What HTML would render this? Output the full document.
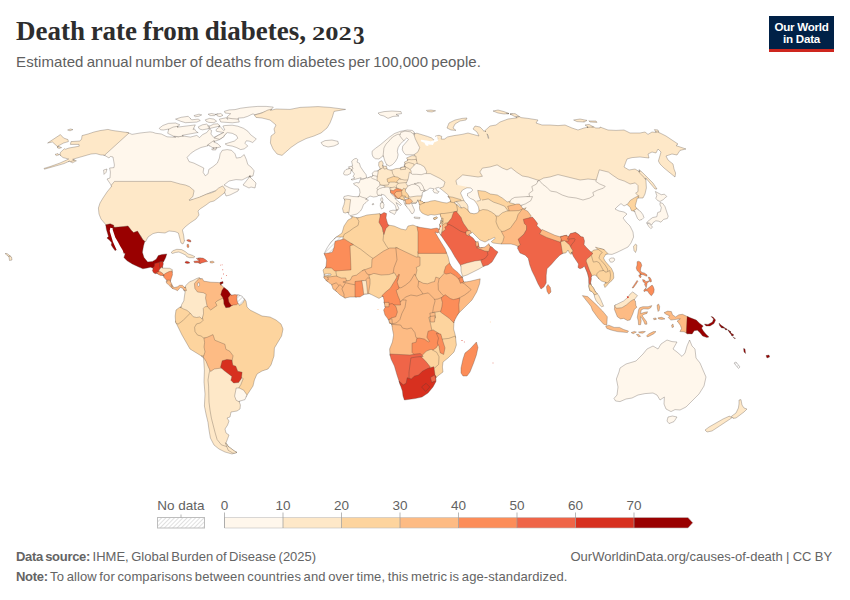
<!DOCTYPE html>
<html>
<head>
<meta charset="utf-8">
<title>Death rate from diabetes, 2023</title>
<style>
html,body{margin:0;padding:0;background:#fff;}
body{width:850px;height:600px;position:relative;overflow:hidden;font-family:"Liberation Sans",sans-serif;}
.t{position:absolute;white-space:nowrap;transform-origin:0 0;line-height:1;}
#title{left:16.1px;top:18.4px;font-family:"Liberation Serif",serif;font-weight:bold;font-size:27px;color:#2d2d2d;word-spacing:-1.2px;}
#sub{left:16.1px;top:53.5px;font-size:15px;color:#606060;word-spacing:-1.1px;letter-spacing:0.08px;}
#logo{position:absolute;left:769px;top:16px;width:65px;height:33px;background:#002147;border-bottom:3px solid #ce261e;color:#fff;font-weight:bold;font-size:11.6px;letter-spacing:-0.25px;line-height:12.5px;text-align:center;}
#logo div{position:absolute;left:0;width:65px;text-align:center;white-space:nowrap;}
.ty{font-family:"Liberation Serif",serif;font-weight:bold;color:#2d2d2d;}
.f{font-size:13px;color:#646464;word-spacing:-1.1px;}
.f b{font-weight:bold;letter-spacing:-0.3px;}
svg{position:absolute;left:0;top:0;}
svg text{font-family:"Liberation Sans",sans-serif;}
</style>
</head>
<body>
<svg id="map" width="850" height="600" viewBox="0 0 850 600">
<defs>
<pattern id="hatch" width="3" height="3" patternUnits="userSpaceOnUse" patternTransform="rotate(45)">
<rect width="3" height="3" fill="#fff"/>
<line x1="0.5" y1="0" x2="0.5" y2="3" stroke="#dcdcdc" stroke-width="0.9"/>
</pattern>
</defs>
<g id="land" stroke="#4a4038" stroke-opacity="0.55" stroke-width="0.55" stroke-linejoin="round" fill-rule="evenodd">
<path d="M57.2 146.3L58.1 147.1L57 147.4L59 148.4L61.6 147.6L58 146.1Z" fill="#fee8c8"/>
<path d="M61.1 155.3L60.1 154.3L60 155L60.5 155.5ZM58 153.6L55 154.4L56.4 155.6L59.2 154.8Z" fill="#fee8c8"/>
<path d="M68.4 161.6L69.5 161.1L72.4 162.8L76.4 160.8L73.1 159.5L68.2 161.4Z" fill="#fee8c8"/>
<path d="M58.3 146.3L57.9 146.1L63.6 143L68.4 141.6L68 139.6L63.6 138L60.4 134.6L47.6 143L52.4 142L57.4 146.5Z" fill="#fee8c8"/>
<path d="M70 130.8L73 129.6L70.4 129L67.6 130Z" fill="#fee8c8"/>
<path d="M103 154L103 155L104 155L109 158L110.4 156.4L113 157L114.4 165L114 167.6L109.6 168L110.4 172L110 178L107 179L111.8 186.1L111.1 186.9L112 188.2L115.5 183L169.9 183L177.7 184.6L184.5 186.9L188.2 189.7L190.9 194.1L188.4 200.8L196.3 199L210.4 192.5L222.2 188.3L223.1 192.5L223.9 193.3L224.8 192.5L226 196L230 195L238 191L239 189L234 189L230 188L224 185L229 181L236 179.6L242 180L250.3 175.8L248.7 177.9L250.5 177.5L249.7 176.7L253 176L254.1 170.8L251.3 167.3L247.8 164.5L246.3 159.5L244.2 154.6L240.7 157.4L236.4 158.1L235 153.8L231.5 150.3L227.2 149.6L222.3 150.3L220.1 153.8L219.4 158.1L217.3 163.1L213.1 166.6L208.8 169.4L208.1 173.7L205.3 175.8L203.1 172.3L203.8 168L193.9 163.1L189 161.6L187.1 157.4L191.1 153.1L195.3 150.3L201 147.5L206.7 146.1L208.5 145.1L209.5 145.8L211.4 144.8L215 142.4L213.5 141.7L219.4 139.7L223.7 136.8L224.3 135.3L225.9 133.9L226.7 132L223.7 132.5L213.8 137.5L210.9 134L211.6 130.5L209.5 129.1L206.7 132.6L202.4 134.7L199.6 137.6L196.8 135.4L190.4 137.1L182.3 135.9L182.3 135.6L178.3 136.9L173.6 136.3L175.7 137.3L167 136.8L161.3 134L155.7 133.3L152.8 132.3L150 131.9L140 133L132 134.4L128 132.6L126.7 132.4ZM209.3 127.7L208.5 128.8L210.3 128.4Z" fill="#fff7ec"/>
<path d="M103.6 170L104 174.4L106 172.4L107 169Z" fill="#fff7ec"/>
<path d="M168.5 130L172.9 128.6L178.1 127.6L178.7 127L177 127.2L179.8 124.8L175.5 123L168.4 123.4L162.8 125.5L159.2 128.3L160.6 129.8L163.5 130L168.8 129Z" fill="#fff7ec"/>
<path d="M173.6 136.2L179.1 136.7L183.4 136L182.3 135.9L182.3 135.3L197.8 132.5L195.3 130.5L194.5 128.8L193 129.5L195.3 124.9L177 127.2L178.1 126.2L173.1 127.1L168.7 129.2L167.7 133.3ZM197.9 132.6L198 132.9L198.2 132.9Z" fill="#fff7ec"/>
<path d="M190 118.7L190.4 118.5L188.2 116.3L181.2 117.3L175.5 119.1L180.5 121.2L185.4 122.7L196.7 122.1L200.3 120.5L198.2 119.1L191.7 119.8L190.7 118.8Z" fill="#fff7ec"/>
<path d="M198.9 114.2L193.9 115.6L195.3 116.7L198.9 116.3L201.7 114.9Z" fill="#fff7ec"/>
<path d="M213.8 122.7L216.6 121.2L213.8 119.1L209.5 118.4L205.3 119.8L206 121.2L208.8 122.4Z" fill="#fff7ec"/>
<path d="M218.1 113.9L216.6 114.2L216.9 114.9ZM215.5 114.4L211.6 113.5L208.1 114.2L210.2 115.6L214.5 115.6L216.1 114.2Z" fill="#fff7ec"/>
<path d="M210.1 126.1L210 126L209 126.4L206.7 124.1L202.4 124.8L198.2 126.9L199.6 129.1L202.4 129.8L208.1 128.8Z" fill="#fff7ec"/>
<path d="M210.4 128.3L219.9 126.1L218 123.8L213.8 124.1L209 126.4L208.3 125.7L207.7 126Z" fill="#fff7ec"/>
<path d="M238.2 118.8L226.9 117.4L227.8 119.4L225.9 117.8L219.4 119.1L220.8 122L232.3 122.8L239.3 122Z" fill="#fff7ec"/>
<path d="M232 118.7L238.3 119.1L238 118.1L243.5 117.7L247.8 116.3L252 114.2L253.5 113.9L254.1 114.8L257.9 114L270.7 110.2L273.3 107.1L266.2 106.4L257.7 106.4L249.2 107.1L240.7 108.2L235 109.6L229.3 109.9L224.4 111.3L225.1 113L230.7 113.7L226.8 117.1L227 117.7Z" fill="#fff7ec"/>
<path d="M215.7 114.6L216.1 114.2L215.6 114.3ZM216.6 114.2L217.3 115.9L220.1 116.7L223 115.3L220.8 113.5Z" fill="#fff7ec"/>
<path d="M214.2 138L219.5 139.3L223.7 136.8L224.3 135.3L227.2 132.6L232.2 133.3L236.4 135.4L237.8 138.2L234.3 141.1L225.1 143.9L227.2 145.3L232.2 146.1L236.4 147.5L240.7 149.6L244.2 148.9L247.8 146.1L244.9 143.2L246.3 140.8L249.2 141.1L252.7 142.5L256.3 139L250.6 134.7L247.8 131.2L243.5 128.3L237.8 126.2L232.2 125.2L225.1 125.5L222.9 126.1L224.8 129.8L223.6 130.5L220.1 126.4L215.9 129.8L216.6 131.4L223.8 132.5L217.9 135.5ZM219.7 125.8L218.5 126.4L219.9 126.1Z" fill="#fff7ec"/>
<path d="M207.4 145.7L208.5 145.1L214.4 148.7L215.9 148.8L215.9 148.1L220.8 146.8L218 143.9L213.5 141.7L214.8 141.2L213.7 140.6L207 145.4Z" fill="#fff7ec"/>
<path d="M216.9 147.5L212.9 147.8L214.4 148.7L211.6 148.9L212.3 150L215.9 149.9L215.9 148.1L216.9 147.8Z" fill="#fff7ec"/>
<path d="M250.3 175.9L243 185L249 188L251 187L255 188L256 183L249.7 176.7L250.8 176.4ZM250 175.6L249.2 176.4L250.3 175.9Z" fill="#fff7ec"/>
<path d="M323 145.4L328 147L334 146L338.4 144L338 141.4L332 140L325 140.6L321 142.6Z" fill="#fff7ec"/>
<path d="M7.9 255.9L9 256.9L9.5 260.5L12 260L11.5 257L9.6 255.6L7.8 255.2Z" fill="#fee8c8"/>
<path d="M10.4 256.2L7 253.5L5 253.5L8.9 256.8Z" fill="#fee8c8"/>
<path d="M70.6 161.7L74.5 160.1L72.6 159.3L91 154L96 153.6L101 155L104 155L105 155.6L105 154.8L129 133L128 132.6L112 130.4L108 129.4L100 130.6L94 132L88 134L82 135.6L81.6 139L80 141L71 141.6L70.4 144.4L79 144.4L79.2 146.2L69 148L65.5 149.2L64.4 148.7L60.4 152.4L60 155L63 157.6L68.7 159L60 163L50 166.6L44 168.4L44.4 169.2L64 163.6L69.5 161.1ZM59 154.9L59.2 154.8L59 154.6Z" fill="#fee8c8"/>
<path d="M267.7 110.1L261.6 113.1L254.4 115.1L256 117.4L262 118L270 120L276 125L274 129L275 133L271 136L270.4 143L273 149L277 154L282 155.4L291 147.4L298 142.6L306 138.6L314 136L321 133L327 128L330 123L332.4 117L334 111.4L345.6 109.4L330 107.4L318 106.6L300 107.4L290 109.4L276 109L270.5 110.4L271.6 109.1Z" fill="#fee8c8"/>
<path d="M111.2 185.3L111.8 186.1L107 192L103 198L100 203L98.4 208L99 214L101 219L105.7 224.6L105.9 225.5L117.9 229L124.1 229L128.5 228.1L130.2 230.7L134.7 234.7L138.7 233.5L141.1 236.5L143.2 241L144.6 242.1L144.9 241.1L145.6 241.6L148 237L153 233.6L158 232.4L165 233L169 231L175 231.6L178.4 233L181 243L183 244L184.7 240.4L184.3 240.5L183.6 235L182.4 230L185 227L190 223L196 219L199 215L198 211L200 209L206 205L210 202L214 201L218 198L224.5 192.8L225.5 189.8L222.7 185.9L218.4 188.2L215.4 191.1L211.7 192.7L206.7 194.1L199.6 197.1L189.5 200.4L189.2 199.8L192.9 196.5L194.1 190.6L189.5 186.7L185.3 185L180.2 184L171.1 181.4L114.5 181.4Z" fill="#fee8c8"/>
<path d="M201.4 311.8L200 316L200.9 319.7L199.5 321.1L195.4 322.1L192.6 326.8L193 332.4L196.4 336.9L200.5 337.9L202.7 340.1L208.3 339L211.8 337.4L213.2 341.8L223.1 345.7L224.1 350.7L228.3 352.8L230.9 356.2L230 361L231.1 366.8L234.2 367.8L236.3 372.8L240.1 373.8L241 378.9L239.1 383.6L235.2 390L238.8 390L242.3 391.8L246 397.1L246.4 396L253 386L254.4 380L257 374L262 371L268 369L271 365L274 356L274.4 348L281.6 336L283 329L281 324L276 320L270 317L262 316L250 310L247 307L246 301L243.5 298L240.4 302.7L231.7 303.4L229.1 304.8L226.9 303.4L225.1 296.8L220.7 298L217.4 299.2L211.8 306.3L208.1 303.9L202.1 306.3Z" fill="#fdd49e"/>
<path d="M205.1 358L207 352.1L206 347L206.6 342.4L205.8 338L203.4 338L201.5 336.1L197.6 335.1L195 331.6L194.6 327.2L196.6 323.9L200.5 322.9L203.1 320.3L201.7 314.5L199 315.9L194.5 314.1L189.9 310.7L181.3 319.2L177.9 321.9L175.5 320.9L175.6 322L182 335L190 349L203 357L203.6 358Z" fill="#fdd49e"/>
<path d="M178.1 324.1L182.7 320.8L191.6 311.8L185.4 308.1L181.3 306.5L181.1 307.4L180 307L176 310L175.2 316L175.6 322L176.2 323.4Z" fill="#fdd49e"/>
<path d="M222.6 443.1L218.9 438.5L213.4 417.8L212 409.9L211 401.9L210.6 385.9L210 380L211 374.2L212.1 369.9L209.9 365.6L207.9 360.5L204.9 356L201.3 356L203 357L203.6 358L204.4 370L204 382L205 394L204.4 406L206 414L208 422.4L209 430L210.4 438L214 445L219 449L225 452L232 454L237 452.4L234.4 451L228.1 446.3L226.9 444.5Z" fill="#fee8c8"/>
<path d="M209 373.8L208 380L208.6 386.1L209 402.1L210 410.1L211.4 418.2L215 432.3L217.1 439.5L221.4 444.9L226.8 446.6L228.4 446.6L228.1 446.3L226 443L229 435L226 433L225 429L227.6 425L229 421L227 418L230 417L231 412L237 411L240 409L240.4 405L239.1 401.3L240.1 401L236.8 395.3L237.9 389.4L240.9 384.4L243.2 378.6L240.1 376.6L237.4 380.7L234.4 381L233.1 379.7L234.1 375.6L225.6 369.2L221.9 365.9L213.7 367L210.1 369.4Z" fill="#fee8c8"/>
<path d="M412.1 135.5L413.4 139.6L417.5 147.7L416.3 150.7L414 153.8L414.7 156.9L414 160.5L415.7 164.7L419.6 166.3L422.8 168.2L424.6 171.9L423.7 175.6L429.7 175.6L439.3 180.4L442.6 182.8L441.8 185.5L439.8 188.1L448.4 195.1L448 197L449.3 197.2L449.6 198.3L453.8 199L459.8 201L466.4 201L461.9 196.5L461.1 193.2L463.5 190L468.2 190L462.5 187.1L458.9 184.4L458.1 181.4L463.3 177.1L478 179L485.6 177.7L482.2 172L483.6 169.9L490.2 169L496.9 167.1L501.6 169.9L507 172.1L510.9 170.2L515.4 173.8L521.6 178L527.8 179L539.1 182.7L544.3 180L550.2 179L558 176.6L579.9 182L588 181L597.7 182.1L600.7 172.2L607.6 173.9L611.4 176.8L617.6 180.9L623.6 182.9L629.9 186L634.7 185.1L636 186.4L636 190.5L632.4 192.8L637.6 198L643 198L645 194L646.4 188L645.9 179.8L640.7 171.3L639.4 170.4L640 172L635 169L629 170L624 167L627 159L632 157.6L640 157L649 158L648 154L652 152L656 153L658 149L661 152L658.4 161L660 164L664 168L675 177L675.6 173L674 169L673 164L668 160L666 156L672 154L677 155L680 150.4L686 149L676 145.6L678 144L666 136L660 133L659.2 132.9L658.7 131.8L655.5 131.4L656.2 132.5L652 132L648 134.4L645 132L640 133L630 133L624 130L616 130.4L608 130L600 127L600 128L595.8 128L593.9 127L592.2 127L589.1 126L587 126.4L588.1 127.2L584 128L578 130L572 128L565 125L558 125.6L550 125L542 125L536 123L538 120L528 118.4L521 117.6L519.7 116.7L515.7 117L517.2 117.8L508 119L500 122L496 125L490 126L484.9 130.7L485.8 132L484.8 130.7L484.1 131.4L483 130L480 127L475 126L473 129L477 132L479 136L468 133L462 134.4L454 135.6L447.6 136.9L444.4 139.1L441.2 139.1L441.8 136.4L439.1 135.3L435.6 136L435.5 136.4L437.9 138.3L437.3 139.9L435.6 140.5L434.2 139.1L433.8 140.1L431.7 138L427.5 136.4L416.9 133.2L413.7 133.9L414.1 132.8L409.8 133.8ZM488.1 135.4L488.8 138.3L488.3 138.4L487 133.8ZM433.1 141.5L432.1 143.8L426.6 143.2L427 144.6L426.5 144.5L425 142L422 140.7L430.7 142.2L433.8 141.2Z" fill="#fee8c8"/>
<path d="M455 120L449 123L447 128L451 130L456 130.4L453 128L455 124L460 121L466 120L467 118L462 118.4Z" fill="#fee8c8"/>
<path d="M513.3 114.3L512.2 113.8L510 114L510.9 114.5ZM504 111.6L498 110L493 111L498 113L504 114L509 113.6Z" fill="#fee8c8"/>
<path d="M507.4 113.7L509 113.6L507.9 113.2L506.5 113.3ZM519.5 116.6L515 113.6L510 114L514.9 116.6Z" fill="#fee8c8"/>
<path d="M580 119L573.6 120L577 121.6L584 122L584.2 121.9L583.8 121.6L584.6 121.7L587 120.4Z" fill="#fee8c8"/>
<path d="M587 120.4L587 120.4L587 120.4ZM597 122.4L596 121L590 121L588.8 120.8L590 122Z" fill="#fee8c8"/>
<path d="M593.6 126.9L589 124.4L585 125L588.1 127.2L587 127.4Z" fill="#fee8c8"/>
<path d="M658.8 132.1L658 130L654.4 129.6L655.7 131.7Z" fill="#fee8c8"/>
<path d="M639.2 172.6L644.3 177.7L645.8 179.6L645.7 177.9L655 189L657 189L653 183L643 173L639 169.6L640 172L638.6 171.1Z" fill="#fee8c8"/>
<path d="M111.8 229.8L114.5 238L117.2 242.3L119.3 246.5L122 250.7L123.1 253L125.2 253.6L123.9 257.6L127.1 260.8L132.3 264L137.7 266.6L142.9 268.8L147.2 268L150.4 267.2L153.4 268.2L153 269.1L153.9 269.4L156.9 265.8L160.2 263.4L163.1 263.4L162.9 262.6L164.1 260.8L165.7 257.6L166.8 253.9L162 254.5L158.3 255.5L156.2 259.2L152.5 261.4L147.7 261.9L144 257.6L142.4 252.3L143.5 246L144.8 241.3L142.7 239.5L137.5 231L133.6 232.6L131.5 230.5L128 225.9L123.8 226.5L115.4 227.2L111.8 226.9Z" fill="#990000"/>
<path d="M117.4 249.9L113.7 241.4L110.6 231.1L111 228.7L113.8 229.2L113.8 225.2L110.2 223.8L105.7 224.7L106.4 229.6L108.5 236.5L106.9 238.1L109.6 240.2L111.7 242.8L111.2 244.9L112.8 247.6L115.2 250.8L116.4 249.6L117.2 250.1Z" fill="#990000"/>
<path d="M204.6 342.4L204 347L205 351.9L203.3 357.1L206.1 361.5L208.1 366.4L210.6 371.5L214.3 369L222.4 367.9L223.8 362.4L227.1 361.4L231.8 362.1L233.1 355.8L229.7 351.2L225.9 349.3L224.9 344.3L214.8 340.2L213 334.6L207.6 337.1L203.9 338.3Z" fill="#fdbb84"/>
<path d="M220.5 367.3L224.4 370.8L231.9 376.4L230.9 380.3L233.6 383L238.6 382.5L241.4 378.4L242.1 372.2L237.7 371.2L235.8 366.2L232.9 365.2L231.8 360.1L226.9 359.4L222.2 360.8Z" fill="#d7301f"/>
<path d="M183.5 288.7L183.8 290.3L184.7 290L185 292.4L183.8 300.9L181.7 304.5L181.1 307.4L180.2 307.1L183.4 308.9L186.9 310.3L190.2 313L193.2 316.7L196.6 317.5L199.8 316.9L202.1 319.1L203.5 313.8L203.3 308.4L204.8 306.8L209.2 306.3L207.5 298.1L208.3 293.3L204 290.7L198.6 290.1L196.8 287.8L196.5 284.2L198.4 281.8L201.4 279.2L201.1 278.8L200.1 279L199.4 277.6L196.6 278.5L193.1 280.4L189.5 281.8L186 285.3L185 287.9L184.2 287.1Z" fill="#fee8c8"/>
<path d="M197 280.4L194.4 283.6L194.9 288.5L197.5 292L203.3 292.7L206.1 294.3L205.5 298.1L207 305.8L207.8 307.2L210.7 310L217 305.5L215.5 302.5L217 301L225.1 297L222.9 294.3L223.7 291.4L225.5 288.7L224.6 288.2L220.7 284.2L221.8 283.7L220.2 282.4L219.1 282.9L218.6 282.5L210.8 282.2L203.7 281.1L202.3 278.5L200.1 279L199.7 278Z" fill="#fdbb84"/>
<path d="M221.9 290.6L220.7 294.8L222.6 297.2L223.7 300.4L223.9 304L225.8 307.7L229.5 307.3L233.1 304.7L230.8 301.2L230.2 298.3L232.5 295.3L232.4 295L231.3 295.3L227.8 290.3L223.9 287.4Z" fill="#990000"/>
<path d="M228.1 297.8L228.9 302L231.3 305.6L233.6 305L236.7 304.7L239.5 302L238.7 298.1L239.4 295.2L234.8 294.6L231.3 295.3L230.7 294.4Z" fill="#fc8d59"/>
<path d="M236.7 298.1L237.4 302L239.5 305.5L242.7 303L244.7 299.7L241.9 296L238.4 295L237.4 294.9Z" fill="url(#hatch)"/>
<path d="M228.2 450.3L232.7 453L234.6 453.2L237 452.4L234.4 451L228.1 446.3L226.5 443.7L225.3 442.8Z" fill="#fee8c8"/>
<path d="M234.6 396.1L236.2 400.3L239.3 401.8L239.1 401.3L245 399.6L246.4 396L247 395.1L243.7 390.2L239.2 388L236.2 388Z" fill="#fff7ec"/>
<path d="M384.8 156.1L385.6 152.8L385.9 148.7L387.5 145.4L390.3 142.7L392.4 139.9L395 137.9L402 134.1L405.2 133.1L409.8 133.8L414.2 135.5L414.9 133.7L413.7 133.9L414.3 132.1L412.2 130.4L407.3 130L400.2 131.4L394.5 133.5L389.6 137L380.3 144.8L375.4 148.4L372.1 151.2L372.1 154.1L373 156.9L375.4 158.7L378.9 159L383.3 155.7L383.7 156.8Z" fill="#fff7ec"/>
<path d="M383.9 148.1L383.1 155.9L383.3 155.7L384.9 161.1L386.7 164.7L389.6 166.1L392.4 164.7L395.2 161.8L397.3 158.3L398.1 154.8L397.3 151.2L398.1 147.7L400.2 144.1L403.8 140.7L404 138.2L401.4 134.7L397.9 134.2L394 136.2L391 138.5L388.8 141.3L385.9 144.2Z" fill="#fff7ec"/>
<path d="M399.8 135.8L402.3 139.1L403.8 140.7L406.8 137.9L408.5 139.5L402.7 146.2L402.3 149.8L403.7 152.6L405.8 154.8L413.3 154.8L414.8 154.2L418 151.8L419.7 147.6L415.3 138.8L413.8 134.3L410.5 131.8L405 131.1L400.8 132.4Z" fill="#fff7ec"/>
<path d="M407.4 161.4L411.5 161.7L416.6 161L415.9 156L412.1 155.6L406.6 157.9L408 160.4L407.1 160.9Z" fill="#fee8c8"/>
<path d="M404.5 165.6L408.7 164.6L412.9 165.7L417.7 164.7L416.2 159.4L411.5 159.7L407.8 159.4L407.5 159.5L408 160.4L404.4 162.1L405.2 164.6L404.2 164.9Z" fill="#fee8c8"/>
<path d="M404.3 168.2L407.6 170.2L411.9 170.7L414.7 167.8L413.8 163.9L408.7 162.5L404.9 163.7L405.2 164.6L404.1 164.9L404.9 166.8L403.9 167Z" fill="#fee8c8"/>
<path d="M409.1 170.6L409.1 174.4L411.9 176.3L416.4 176.3L421.5 176.7L425.8 175.4L426.7 171.6L424.3 166.8L420.4 164.5L416.1 163.3Z" fill="#fff7ec"/>
<path d="M390.7 174.2L393.2 178.3L397.1 179.1L404.2 182L409.5 182L410.4 178.3L411.1 174L411.1 170.6L408.5 168.4L404.8 166.7L400.9 167.5L401.1 168.2L395.9 168.6L391 170.3L389.9 170.1Z" fill="#fee8c8"/>
<path d="M375.1 175.9L375.1 180.5L377.4 184.4L379.9 186.9L383.9 187.2L389.5 186.9L391.4 183L389.7 180.2L391.3 179.8L395.2 177.8L392.6 173.5L391.9 170L391 170.3L387.2 169.3L386.9 168.1L383.9 166.3L381.3 168L380.1 168.3L380.6 169.2L378.9 169.6L377.9 171.1L376.6 171.1L375.9 172Z" fill="#fee8c8"/>
<path d="M379.6 169.6L380.1 169.3L379.6 169.5ZM383.4 167.4L383.6 166.1L382.6 166.2L383.2 163.2L381.8 160.7L378.9 162.1L378.6 165.4L380.5 169.1Z" fill="#fee8c8"/>
<path d="M382.7 165.7L382.8 165.2L382.5 165.3ZM384 169.1L387 168.5L386.3 165.8L386.2 166L385 166.5L384.7 166L382.9 166.2ZM387 164.7L386.8 164.7L387.1 164.9Z" fill="#fee8c8"/>
<path d="M387.7 182L390.6 184.1L394.7 184.1L398.7 182.5L400.9 179.3L397.7 177.2L393.7 176.4L387 178.9Z" fill="#fdd49e"/>
<path d="M398 184.8L402.4 184.8L407.9 184L410.1 180L404.5 180L399.1 178.9L396.9 181.5Z" fill="#fee8c8"/>
<path d="M386.4 189L391 189.5L394.8 189L398.3 187.2L398.3 183L394.6 182.1L389.6 182.1L388.2 185L380.8 185.4Z" fill="#fee8c8"/>
<path d="M397.2 189.6L401.7 190.5L406.4 188.9L409.6 185.3L407.8 182.3L398.2 183.3L396.2 185.7Z" fill="#fee8c8"/>
<path d="M376 190.4L379.7 190.9L384 189.9L385.1 185.9L380.3 184.9L374.8 186.7Z" fill="#fff7ec"/>
<path d="M372.5 177.7L376.9 177.7L377.8 174.1L378.3 170.4L377.9 171.1L374.7 171.1L372.1 173.2L373 176L372.1 176.3Z" fill="#fff7ec"/>
<path d="M368.9 179.9L372.4 181.3L377.1 181.3L377.1 176.3L372.8 175.4L373 176L368.1 177.8Z" fill="#fff7ec"/>
<path d="M357.8 197L361.6 198.9L365.1 200.1L366.3 199.5L365.6 199.3L370 196L373.5 197L377 196.5L379 195L380.2 195.4L379 192.8L379 190.5L376.8 188.8L377.8 187.2L380.1 185.4L379.4 181.9L375.4 179.6L372.5 178.6L370.4 176.9L366.9 178.2L366.8 177.5L363.7 179L360.4 179.4L359 183L356.5 182.5L353.5 183.5L354.5 185L357.5 186.5L359.5 189L360 192.5L358.9 196.8L357.9 196.7Z" fill="#fff7ec"/>
<path d="M382.2 203.8L382.9 202.4L382.4 201.2L383 200L382.2 197.5L380.8 198.5L380.8 200.5L382.5 202.6L381.4 202.8Z" fill="#fff7ec"/>
<path d="M352.1 167.6L351.7 170.4L354.5 174L353 176.5L355 178L351 179.5L352.5 180L361.1 177.7L360.6 178.9L364.3 178.5L366.7 177.5L366 174.5L364 172L360.5 166.8L359.4 163.2L357 162.1L357.9 159.7L356.2 158.3L354.1 159L351.7 161.1L352 163.2L352.7 165.9L351.7 166.1Z" fill="#fff7ec"/>
<path d="M349.5 171L353.1 168.5L351.6 166.2L348.5 166.8L349.4 168.6L348.4 168.8Z" fill="#fff7ec"/>
<path d="M352.1 170.8L350.7 168.7L349.1 168L349.4 168.6L346 169.5L344.5 171L343.5 173.5L344.5 175L347.5 175L350.5 173.5L351.2 169.9Z" fill="#fff7ec"/>
<path d="M348.4 201.4L347 212.1L347.1 212.4L348 212L349 214.5L350.2 215.7L357 214L360.5 211L362 208.5L363.5 204.5L366 202.5L368.5 200L365.6 199.3L366.6 198.5L362.4 197.3L359.2 195.8L358.9 196.8L353 196.5L348 195.5L344 196.5L343.5 198.5L345 200L344.8 201ZM352.5 216.6L350.7 216.2L351.7 217.2Z" fill="#fff7ec"/>
<path d="M372.4 204.8L373.8 204.5L373.5 203.5L372 204Z" fill="#fff7ec"/>
<path d="M377 193.2L378.2 195.6L379 195L381.7 195.9L381.1 194.2L384.5 195L386.5 197.5L389 200L394 204L395.5 206L396.4 210.3L396.8 210.7L399 208.5L396 202.5L400.5 205.5L401.5 204.5L399 202L394.8 198.5L396.4 198.5L393.7 196.3L391.4 194L390.7 191.9L392.1 190.9L391.3 187.6L387 187L382.8 187.5L379.5 188.6L377 190.5Z" fill="#fff7ec"/>
<path d="M396.2 209.5L396.4 210.5L393 210.2L389.5 211L389.8 212.2L392 213L394.5 214.5L395.5 213L396.2 211.3L397.9 209.6Z" fill="#fff7ec"/>
<path d="M381.8 201.7L382.5 202.6L380.5 203L380.2 206L381.5 209L383.5 208L384 204.5L382.5 201.6Z" fill="#fff7ec"/>
<path d="M390.6 191.5L394.8 191.5L398.7 188.9L394.6 187L389.7 188Z" fill="#fee8c8"/>
<path d="M407.8 180L406.1 183.4L407.9 186.3L412.3 185.5L419.6 184.9L421.2 187.1L422.2 189.7L422.7 192.3L423 191.8L427.1 190.2L429.9 188.1L434.2 188.8L432.8 190.2L434.2 192.7L437.7 193.3L439.1 191.6L437 190.9L435.6 188.1L438.8 187.4L439.8 188.2L443.5 186.7L445 182L440.4 178.7L430.2 173.6L424.8 173.6L421.3 174.7L416.5 174.3L412.5 174.3L409.4 172.2L408.4 177.9Z" fill="#fff7ec"/>
<path d="M401.6 113.6L401 111.6L392 111L384 111.6L378 113L380 115L384 116L388 118.4L393 116.4L399 116L396 114.4Z" fill="#fff7ec"/>
<path d="M431 110L426.4 110.4L427.6 111.6L432 112L435.6 110.8Z" fill="#fee8c8"/>
<path d="M344.7 239L345.8 235.7L350.6 232.8L354.6 229.8L359.9 226.6L361.1 220.8L359 217.7L358 218L352.5 216.6L351.6 217.1L352.3 217.8L348 220L344 226L342 233L335 238L334 239Z" fill="#fdd49e"/>
<path d="M329.2 255L333.7 253.8L336 248.3L336.9 242.8L345 240.8L345 237L336.5 237L335 238L331 242L327 248L324 254L324.6 254.4L324.9 255.4Z" fill="url(#hatch)"/>
<path d="M358.9 221.2L358.1 225.4L353.4 228.2L349.4 231.2L344.2 234.3L343 237.8L343 240.6L359.4 250.8L368.4 257.8L373 260.8L384.5 252.9L391.5 249.4L387.8 244.4L385 239.8L386 231.9L383.9 226.6L381.1 221.8L382 217L381.2 214.2L380.4 214.8L380 213.6L367 215L358 218L356.6 217.6Z" fill="#fdd49e"/>
<path d="M382.9 231.3L383.9 232.4L383 240.2L386.2 245.6L389.5 250L396.8 250L415.8 259L420 259L420 231.9L419.1 227.2L418 227L413 225L408 226L406 230L401 229L394 226L388 225L387.6 223.9L384.1 227.5Z" fill="#fdd49e"/>
<path d="M418 264.4L413.8 266.5L415 270L413.5 276.1L416.2 281.7L420.6 284.9L427 286L432.6 284.9L435.1 280.8L438 284.7L440.8 280.6L443.9 277.6L445.9 272.3L447.5 267.6L450.4 264.8L449.8 264L448.2 257L445.9 251.4L418 251.4Z" fill="#fdd49e"/>
<path d="M348 244.3L349 268.1L334 269.1L334 273.3L337.4 278.5L344.4 279.9L346.6 283.1L351.7 281.9L353.7 277.9L357.5 276.9L362.5 272.9L373.6 268.7L374 259.1L369.6 256.2L360.6 249.2L351.1 243.3Z" fill="#fdd49e"/>
<path d="M371.6 267.3L362.5 270.5L366 275.9L370 277.1L374.1 275.4L380.9 277L389.2 276.6L394.9 274.8L396 268.3L399 260.1L397.9 248L389.8 248L383.5 251.1L372 259.1Z" fill="#fdbb84"/>
<path d="M397 259.9L394 267.7L393 274.2L395.9 279.1L394.9 282L397.2 288.8L401.1 290.1L406.6 286.8L411.8 282.7L415.5 276.4L417 270L416.2 267.5L420 265.6L420 257L416.2 257L395.8 247.3Z" fill="#fdbb84"/>
<path d="M329 279L337.2 277.8L336 272.9L336 269.6L332.4 266L326.1 266L326 267L323 270L324 274L324 277.6L324.8 278.7Z" fill="#fdd49e"/>
<path d="M331.4 280.6L329.6 277L324 276.6L324 277.6L326.6 281L326.9 280.9L327.8 281.7Z" fill="#fdbb84"/>
<path d="M332.9 286.1L335.9 285.1L339.4 286.8L343.2 290.6L347.1 284.2L345.8 278L341.2 278L336.1 276L327.5 277.2L328.6 279.4L326 280.3L326.6 281L326.9 280.9L330 283.6L331.6 284.4L332 285.6Z" fill="#fdbb84"/>
<path d="M340.3 286.9L336.2 282.8L331.7 284.6L333 289L336 291L336.7 291.7Z" fill="#fdbb84"/>
<path d="M346 293.8L343.9 288.4L340 284.6L338.2 286.3L335.2 290.4L336 291L340 295L345 298L346 297.8Z" fill="#fdbb84"/>
<path d="M344 294.2L344 297.4L345 298L350 297L357 297L357 283.2L346.5 280.8L345.1 283.5L341.9 288.9Z" fill="#fdbb84"/>
<path d="M342.9 282L350.8 284L357 285.2L357 283.4L364.4 283L368.7 279.7L371.6 275.4L367.2 274.1L364.4 269.7L361.5 271.2L356.5 275.1L352.3 276.1L350.3 280.1Z" fill="#fdbb84"/>
<path d="M365.6 294L369.4 293.6L370.3 294.1L372 284.1L372 278L367.6 278L364.4 281.2Z" fill="#fdbb84"/>
<path d="M370 283.9L368.4 293.7L369.4 293.6L379 298.4L383 296L383.3 297L383.6 296.8L386.7 293.7L391.8 289.7L398.2 279L394.4 272.8L388.8 274.6L381.1 275L373.9 273.4L368.8 275.4L370 279.2Z" fill="#fdd49e"/>
<path d="M393.8 289.6L396.1 296.3L398 301.3L398.6 305.9L403.7 301.7L406.6 298.9L411.1 297L417.1 298L423.3 296L429.8 294.7L424.8 288.4L421.8 283.3L417.8 280.3L414.7 273.9L410.2 281.3L405.4 285.2L400.9 287.9L397.9 286.9Z" fill="#fdbb84"/>
<path d="M417.9 286.9L421.6 291.8L424.6 296.6L428.4 299.8L433.4 301L438.4 301L442.9 299.1L445.3 295.9L439.8 288.7L441 278.9L435.8 277.1L434.5 281.6L432.1 282.1L427.6 283.8L423.3 283.3L418.7 281Z" fill="#fdbb84"/>
<path d="M444.4 273.1L439 279.1L438.1 283.6L438.4 289.9L441.5 293.7L444.5 296.7L449.4 300.3L453.3 301.6L459 300.4L465.6 296.8L470.4 293.2L474.1 289.4L465.6 282.2L465.3 282.1L463.8 282.3L463.4 281.2L462.1 280.5L459.4 277.8L456.4 273L451.2 270.4L445.8 271.1Z" fill="#fdbb84"/>
<path d="M464.5 283.9L471.1 289.6L469.1 291.7L464.5 295.1L457.7 298.8L456.8 304.6L457.4 315.2L458.3 313.4L460.9 311.1L472 300L476.7 291.9L479.6 283.7L480.2 278.8L469.7 281.3L463.8 282.3L463.5 281.4L460.4 281.9Z" fill="#fdbb84"/>
<path d="M432.6 299.7L431.3 312.5L434.6 313.3L442.5 312.6L443.8 307.2L444.5 302.3L442.9 296.9L437.9 299Z" fill="#fdbb84"/>
<path d="M403.8 302L403 306.7L400.1 312.6L398.1 318.5L395.5 321.1L389.6 322.3L390 323.3L391 323L392 325.4L392.1 326.4L399.4 327L401.4 329.9L407 331L410.6 330.1L413.1 333.4L414.1 338.8L423.6 340.9L427.8 344.1L432.5 342.6L429.1 336.8L429.9 332.7L434.2 330.5L431 318L432.6 313.2L433.4 307.2L435.1 300.9L433.8 298.4L428.3 292.9L422.7 294L416.9 296L410.9 295L405.4 297.1L400.6 302Z" fill="#fdbb84"/>
<path d="M389.9 304.2L394.1 307.6L395.4 312L394.2 315.2L390.4 316.1L388.2 319.3L388.9 320.2L389.4 322.4L390 323.3L391 323L391.4 323.9L396.5 322.9L399.9 319.5L401.9 313.4L405 307.3L406.2 300L402.6 300L399 303L393.9 303Z" fill="#fdbb84"/>
<path d="M400 356L410 357L418.1 355.7L414 351.6L414 344.8L417.9 343.8L418.7 338.9L415.9 337.3L414.9 332.6L411.4 327.9L407 329L402.6 328.1L400.6 325L391.6 324.4L392 325.4L392.4 329L393.6 335L392.4 342L389.6 349L390 355L390.2 356Z" fill="#fdbb84"/>
<path d="M392.3 323.8L391.9 318.7L388.5 319.7L388.9 320.2L389.6 323.4L391 323L391.4 324Z" fill="#fdbb84"/>
<path d="M433.3 316.1L431.4 316.4L428.8 317.4L430.6 324.2L432.1 331.2L437.5 334.9L439.3 335.8L442.5 341.1L449.2 340.4L455.7 338L455 334L453.6 329L454 321.6L454.7 320.3L448.6 315.2L442.2 310.9L432.9 312.6Z" fill="#fdd49e"/>
<path d="M440.9 341.9L443 348.1L442.3 351.5L441.9 351.3L441 345.7L439 342L437.4 342L434.8 346.8L430.3 351.3L435.3 353.7L437 357.2L436.6 363.7L433.4 368.7L433 375.2L435.3 379.6L435.7 379.2L435.6 378L439 375L443 372L442.4 367L443 362L448 358L454 352L456.4 345L455.4 336L448.8 338.4L442.4 339.1Z" fill="#fdd49e"/>
<path d="M457.1 185.6L461.5 188.9L463.8 190L465.1 190L469.8 189.1L471.9 190.4L470.9 194.2L474.2 199.6L477.7 203.1L483.4 201.7L481 195.7L480.3 192.8L484.7 193.4L489.7 196L496.7 197L501.4 199.8L506.8 204.1L511.7 202.9L512.8 200.7L515.3 199.4L526 198.6L532.3 198.6L531.1 194.4L535.1 191.4L534.2 187.5L537.7 185.8L540.5 181L528.2 177L522.4 176L516.6 172.2L511.1 167.8L507 169.9L502.4 168.1L497.1 164.9L489.8 167L482.4 168.1L479.8 172L482.4 176.3L478 177L462.7 174.9L455.9 180.6Z" fill="#fff7ec"/>
<path d="M541.3 185.7L545.3 188.8L549.5 192.9L555.7 194L561.6 196.9L567.8 199L575.8 200L583 202L590.4 199.9L596.2 196.4L595.2 193.5L598.4 191.9L604.5 189.9L608.8 185.7L600.5 182.1L597.4 180L588 179L580.1 180L558 174.6L549.8 177L543.7 178L537.4 181.3Z" fill="#fff7ec"/>
<path d="M536.3 184.2L531.8 186.5L532.9 190.6L528.9 193.6L529.7 196.6L526.9 196.6L529.4 199.7L524.4 202.2L519.7 208.1L522.4 210.8L526.3 212.8L529.2 216.7L532.2 219.6L535.1 225.5L538.4 229.8L542.6 231.3L548.6 233.9L554.6 236.9L560 239.1L565 237.5L568.1 238.7L574 234.5L575.6 234.1L578.4 237.9L582.1 238.8L583 244.4L589.6 255.2L593.6 253.8L595.6 251L600.1 250.6L602.5 250.1L605.6 254.7L606.1 254L612 254.4L617 252.4L628 247L631 243L633.6 237L633 232L630 226L626 222L623 218L627 214L624 212L619 211L615 209L618 206L621 203.6L624 206L627.1 204.4L627.9 205.2L628.6 204.8L631.6 201.8L635.7 199.2L638.4 195.9L635.6 193.2L638 191.5L638 185.6L635.3 182.9L630.1 184L624.4 181.1L618.4 179.1L612.6 175.2L608.4 172.1L599.3 169.8L595.8 181.4L599.5 183.9L605.2 186.3L603.5 188.1L597.6 190.1L592.8 192.5L593.8 195.6L589.6 198.1L583 200L576.2 198L568.2 197L562.4 195.1L556.3 192L550.5 191.1L546.7 187.2L542.7 184.3L538.8 179.9Z" fill="#fff7ec"/>
<path d="M614.8 260L614 258L611 258L609 259.5L610.5 262.2L613 262Z" fill="#fff7ec"/>
<path d="M636.5 250L636.8 245L635.5 244L633.5 246.5L634 250.5L635.5 252.5Z" fill="#fee8c8"/>
<path d="M660 202.5L662.7 203.4L665 206.6L668.2 216.2L667.3 218.5L663.6 219.4L660.9 222.2L658.6 221.2L655.8 220.8L653.1 222.6L651.7 224.9L649.4 223.1L646.7 222.6L649.4 219.9L652.6 217.6L656.8 216.7L657.7 212.5L660.4 211.6L661.3 207.5L660 204.8Z" fill="#fff7ec"/>
<path d="M646.7 223.3L649.4 223.7L652.6 227.2L650.8 228.6L649 226.8Z" fill="#fff7ec"/>
<path d="M655.4 191.5L661.3 194.7L664.5 194.2L666.8 196.5L665 197.9L663.2 199.7L660 201.5L657.7 200.6L655.8 198.3L656.8 195.6Z" fill="#fff7ec"/>
<path d="M466.6 185L471.5 190L470.4 191.2L466.5 192.8L466.5 196.5L470 199.4L473.3 200.8L474.3 202.2L479.2 205.3L482 201.8L479.9 185Z" fill="#fff7ec" stroke="none"/>
<path d="M456 200.2L462.7 202.5L467.1 203.6L464.4 199L461.6 193.1L463.2 190.8L470.2 187.4L456 184.8Z" fill="#fee8c8" stroke="none"/>
<path d="M582.4 295.6L587.7 296.6L596.2 304.6L602.5 310.9L607.3 316.8L606.8 325.2L603.6 324.2L597.8 317.8L592.5 310.4L590.9 306.2Z" fill="#fdbb84"/>
<path d="M605.7 326.3L608.9 325.2L614.2 327.4L619.5 327.4L623.7 329.5L628.5 331.1L627.4 332.6L617.4 331.6L611 330L606.8 328.4Z" fill="#fdbb84"/>
<path d="M631.1 332.6L634.3 331.4L636.4 332.1L633.2 333.7Z" fill="#fdbb84"/>
<path d="M638.5 332.1L642.8 331.4L645.4 331.6L642.8 333.2L639.6 332.9Z" fill="#fdbb84"/>
<path d="M636.4 334.6L638.5 334.2L640.6 336.4L638.5 336.7Z" fill="#fdbb84"/>
<path d="M646.5 335.8L649.1 333.7L653.4 331.6L656 331.6L653.9 333.7L650.2 335.8L647.5 336.9Z" fill="#fdbb84"/>
<path d="M632.8 297.6L629.5 299.5L625.2 303.3L621.3 305.7L617.1 306.2L615.5 305L614.7 305.4L614.4 309.4L617.4 316.8L620.5 318.9L623.7 318.4L627.4 320.5L630.1 319.9L632.7 314.1L634.3 309.4L636.9 307.2L635.9 305.6L635.4 300.9L634.1 299.9L634.7 299.1Z" fill="#fdbb84"/>
<path d="M639.6 307.8L642.8 306.7L648.1 306.7L651.8 305.6L650.7 307.8L648.1 309.1L643.8 308.8L641.2 309.9L640.6 313.6L643.8 312.5L647.5 311.7L647 313.4L643.8 314.4L642.2 315.7L646.5 321.5L647 324.2L644.9 324.2L643.8 321.5L641.7 317.8L640.4 316.8L641.2 321L640.6 324.7L638.5 324.7L638.3 321L637.3 317.3L638.5 309.9Z" fill="#fdbb84"/>
<path d="M657.1 305.1L658.6 304.1L659.7 306.7L659.2 310.4L658.1 311.5L657.4 308.3Z" fill="#fdbb84"/>
<path d="M653.4 318.4L656 318L656.3 319.4L653.9 319.7Z" fill="#fdbb84"/>
<path d="M658.1 317.8L661.8 317.3L665 318.9L661.8 319.4L658.6 318.9Z" fill="#fdbb84"/>
<path d="M671.6 325L672 327.6L673.6 327L673 324Z" fill="#fdbb84"/>
<path d="M689 317.3L682.5 314.3L678.8 314.8L675.6 316.9L672.5 314.8L671.4 311.6L667.7 311.1L664 312.7L666.1 314.3L669.8 315.9L668.2 317.5L670.9 320.1L680.3 318.8L677 321.2L677.8 321.7L680.4 325.4L681.5 328.6L679.9 331.6L684.1 331.8L687.3 333.7L688.3 333.7Z" fill="#fdbb84"/>
<path d="M704.4 324L706 326L710 326L714 323.6L715.6 320L713 317L711 316.4L713.6 319L712.4 322L708 324.4Z" fill="#990000"/>
<path d="M723.6 327L721.4 325.6L719 323L719.6 325.6L721.6 328L724.2 328Z" fill="#990000"/>
<path d="M723.1 328L724.3 328L725.6 330L727.3 329.5L721.5 325.7ZM728.4 330.2L728 330L728.2 330.3Z" fill="#990000"/>
<path d="M726.6 329.7L727.3 329.5L725.8 328.6ZM731 333L730 332.3L731 332L728 330L730.2 333.3Z" fill="#990000"/>
<path d="M728 330L732.2 336.1L734 335L730 332.3L731 332Z" fill="#990000"/>
<path d="M731.3 334.9L732.2 336.1L732.8 335.7ZM734.4 338.6L735.6 338.4L733 337Z" fill="#990000"/>
<path d="M640.6 275.1L640.4 274.8L640 274.9ZM643.8 275L645.4 275.8L647.1 276.2L646.7 274.6L644.2 272.9L641.8 272.5L640.4 270.4L640.8 267.9L641.8 265.4L640.8 262.5L638.8 261.2L637.1 261.7L637.1 265L636.2 267.9L637.1 270.4L638.8 272.1L640.4 274.3Z" fill="#fc8d59"/>
<path d="M641 273.8L640.1 273.9L640.4 274.3L641.4 274.5ZM639.3 276.7L640.4 277.9L641.2 276.7L640.4 274.8L638.8 275Z" fill="#fc8d59"/>
<path d="M648.8 281.6L649.7 280.7L650 282.1L651.5 281.5L651.2 279.6L650 277.5L648.3 277.1L648.8 278.8L649.7 280.7L648.7 281Z" fill="#fc8d59"/>
<path d="M646.4 286.8L647.1 283.3L649 281.4L648.6 281L645.8 281.7L644.6 280L642.5 279.6L643.3 282.1L645 282.9L644.6 284.6L645.9 287.1Z" fill="#fc8d59"/>
<path d="M645.9 287.3L646.2 287.8L646.3 287.2ZM652.1 285L645.8 290L646.1 288.1L643.8 290L644.2 291.7L645.8 290.8L647.9 291.2L648.8 292.9L650 294.6L651.5 295.7L653.8 292.5L654.2 289.6L653.3 286.7Z" fill="#fc8d59"/>
<path d="M637.9 281.2L637.1 280.4L632.1 287.9L633.3 287.9L635.8 284.6Z" fill="#fc8d59"/>
<path d="M632 398L638 395L645 393.6L653 393L657 395L660 400L664.4 397L664 404L666 409L671 411.6L675 409.6L680 410L686 407L699 394L704 386L706 377L700 363L696 358L695 349L692 346L689.6 340L687 346L685 353L682 356.4L677 352L673 349L677 342L672 341.6L667 340L661 344L658 349L653 346L647 349L643 354L636 361L626 364L620 368L619 372L616.4 379L618 387L617 395L614 398.4L615.6 401L620 401.6L626 399Z" fill="#fff7ec"/>
<path d="M674 421.6L677 417L672.4 416L668 417L667 421L669 423.6Z" fill="#fff7ec"/>
<path d="M731.9 417.8L732.8 417.2L733 418.4L736 418L744 412L747 409L744 408L742 405L741 399.6L739 400L739 404L738.4 408L736 413L731.5 416.2Z" fill="#fee8c8"/>
<path d="M731.1 416.6L730.3 417.1L729.6 416L723 419L709 427L705 430L707 432L712 431L731.8 417.9Z" fill="#fee8c8"/>
<path d="M744 352L745.6 353.6L745 349L743.6 348.4Z" fill="#990000"/>
<path d="M767 358L769.6 357L769 355L766 355.6Z" fill="#990000"/>
<path d="M738.4 368.4L740 367L736 362L734 363Z" fill="url(#hatch)"/>
<path d="M158.2 273.7L162.8 268.1L162.2 268.1L162.5 266.9L161.5 265.8L161.5 261.6L154.6 263.6L154.3 266.2L152.5 267.9L153.4 268.2L152.4 270.5L153.4 272.6L155.2 273.7L157 273.1L157.7 273.9Z" fill="#d7301f"/>
<path d="M159.5 266.4L160.1 268.6L163.1 268.6L163.2 268.1L162.2 268.1L163.3 264.1L162.9 262.6L163.6 261.3L159.5 261.8Z" fill="#d7301f"/>
<path d="M158.6 271.1L159.7 273.6L162.4 275.4L164.1 275.4L163.9 276.7L169.3 273.3L172.3 272.8L172.1 270.9L172.5 269.8L169.7 268.3L162.2 268.1L162.5 267.1L162 267.1L160.1 268.4Z" fill="#fee8c8"/>
<path d="M156 273.4L157 273.1L158.1 274.3L160.5 275.4L164.1 275.4L163.9 276.4L164.8 276.4L162.6 273.3L159.6 271.2L155.6 272.9Z" fill="#fc8d59"/>
<path d="M163 275.4L164.1 275.4L163.7 277.1L167.5 281.2L166.6 281.3L167.1 281.8L170.8 282.1L170.3 281.3L172.5 274.7L172.1 270.9L169 271.6L166 273.1L163.1 275.1Z" fill="#fc8d59"/>
<path d="M173.4 286.9L172.5 286.5L171.8 283.9L170.3 281.3L170.6 280.4L168.2 280.1L166.7 280.3L167.5 281.2L166.1 281.4L166.6 283.2L168.5 284.6L170.4 286.8L173.1 288.9Z" fill="#fdbb84"/>
<path d="M171.9 287.9L173.1 288.8L175.3 289.6L177.5 290.7L180.3 287.5L182.7 288.2L183.8 290.3L184.7 290L184.8 291.1L186.5 290.5L185.4 286.9L185 287.9L182.4 285.3L179.6 285.3L177.5 286.8L174.6 287.5L172.5 286.5L172.2 285.2L170.9 284.6Z" fill="#fdbb84"/>
<path d="M172.5 253.5L175.3 252.5L178.9 252L182.4 253.5L186 255.3L186.7 256.7L189.5 257.7L193.8 257.7L194.9 256.7L192.3 255.3L188.1 253.9L185.3 251.6L181.7 249.6L176.8 249.3L173.2 250.6L171.1 252.5Z" fill="#fee8c8"/>
<path d="M189.8 263.1L189.2 262L186.7 261.2L185 262L185.3 262.9L187.4 263.5Z" fill="#d7301f"/>
<path d="M201.2 263L201.9 258.7L201.1 258.1L199.4 258L196.3 258.4L199.1 260.7L193.8 261.2L194.5 262.7L197.7 262.7L200.1 263.4Z" fill="#ef6548"/>
<path d="M199.8 259.6L199.2 263.1L200.1 263.4L205.1 262L207.6 261.5L205.8 259.8L203 258.1L199.4 258L198.1 258.2Z" fill="#ef6548"/>
<path d="M210.2 262.7L212.2 263.1L214.3 262.2L212.9 261.2L210.1 261.5Z" fill="#fdbb84"/>
<path d="M187.4 241.1L189.2 241.7L190.9 242L190.6 240.3L188.8 239.6L186.7 240Z" fill="#ef6548"/>
<path d="M187 244.5L187.1 246.8L188.1 247.9L188.9 246.4L188.4 244.2Z" fill="#fc8d59"/>
<path d="M220.8 285.2L221.4 285L220.7 284.2L223.2 283.2L222.8 281.4L219.8 282.6Z" fill="#990000"/>
<path d="M221.8 264.4L222.4 264.4L222.4 265.2L221.8 265.2Z" fill="#d7301f" stroke="none"/>
<path d="M222.5 269.3L223.1 269.3L223.1 270.2L222.5 270.2Z" fill="#d7301f" stroke="none"/>
<path d="M223.2 273.6L223.8 273.6L223.8 274.4L223.2 274.4Z" fill="#d7301f" stroke="none"/>
<path d="M226.1 275L226.6 275L226.6 275.9L226.1 275.9Z" fill="#d7301f" stroke="none"/>
<path d="M221.1 277.8L221.7 277.8L221.7 278.7L221.1 278.7Z" fill="#d7301f" stroke="none"/>
<path d="M220 264.8L220.5 264.8L220.5 265.6L220 265.6Z" fill="#d7301f" stroke="none"/>
<path d="M197.7 283.2L199.1 282.5L199.7 285.1L198.6 286.5L197.6 285.3Z" fill="#ffffff"/>
<path d="M344.2 199.2L345 200L344 204.5L342.5 208.5L343.5 212.5L345.5 213L348 212L348.4 212.9L348.9 212.7L350.6 199.6L344.2 198.9Z" fill="#fee8c8"/>
<path d="M393.2 190.7L390.5 189.9L390.5 192.7L392.9 194.3L395.3 196.9L397.4 198.5L400 198.5L401.8 199.5L402.9 199.5L398.2 195.8L396.8 194.1L397.5 193.5L400.2 193.2L405 191.8L400.3 189L396.2 188.5Z" fill="#fc8d59"/>
<path d="M396.8 197.2L398.4 198.5L400 198.5L401 199L402.8 197.7L404 195.2L403.3 190.9L396.5 191.5L394.2 193.9Z" fill="#fdbb84"/>
<path d="M402 195.4L404.9 199.4L407.6 200.1L410.4 198.7L411.1 195.8L409.3 192.9L407.2 190.2L403.7 188.2L401.5 191.2Z" fill="#fdd49e"/>
<path d="M402.8 199.7L403.8 199.9L404 202L404.8 204.5L406 205.5L406.7 206.6L407.8 203.1L407 199.3L402.7 198.9Z" fill="#fff7ec"/>
<path d="M418.7 200.3L418.1 200.4L418.3 201ZM417.5 200.4L411.2 201L409.3 202L406.3 202L405.2 204.8L406 205.5L407.5 208L409 209.5L412 214L413.8 212.5L414.5 210L411.6 203.5L416 203.5Z" fill="#fff7ec"/>
<path d="M414.5 218.2L419.5 218.8L420 217.5L414 217Z" fill="#fff7ec"/>
<path d="M408.5 197.9L408.5 200.3L410.2 201.6L410.9 203L416.5 202.6L417.9 199.7L418.6 201.9L420.1 201.4L420.4 201L420.2 201L422 196.5L421.8 196.2L422 194.8L421.5 194L416.9 194L409.2 195.1Z" fill="#fee8c8"/>
<path d="M405.5 191.4L407.7 194.1L409.5 197.1L417.1 196L421.8 196L422.5 192.5L423 191.8L424.8 191.1L425.5 190.2L422.2 188.3L420.8 185.9L418.3 182.7L415.7 184L411.7 184.5L407.8 186.2L405.5 189.7Z" fill="#fff7ec"/>
<path d="M419.2 186.6L420.8 190.5L424.5 190.5L423 186.2L420.5 182.7L414.3 183.6Z" fill="#fff7ec"/>
<path d="M437.4 217.7L436.5 217L433.5 218L434 219.5L436 219Z" fill="#fdd49e"/>
<path d="M380 216.9L378.9 222.2L382.1 227.4L383.9 234.6L385.9 228.5L389.1 225.3L388 225L386 218L386.6 213.6L384 212.4L380.4 214.8L380.1 213.8Z" fill="#ef6548"/>
<path d="M418 232.1L418 253.4L446.6 253.4L445.2 249L437.8 237L435 232L438 233L438.7 232L439.3 232.8L441.4 229.7L439.5 228.5L439.5 229.7L437 228L431 229L418 227L416.9 226.6Z" fill="#fc8d59"/>
<path d="M331.6 268L334.6 271L351 269.9L350 245.7L353.4 244.7L344.2 238.9L335.1 241.2L334 247.7L332.3 252.2L328.8 253L324.3 253.4L324 254L324.6 254.4L326.6 260L326 267L325 268Z" fill="#fc8d59"/>
<path d="M324.4 274.2L327.4 273.8L331 274L331 275.2L324.6 275.8Z" fill="url(#hatch)"/>
<path d="M355 297L360 297L364.6 294L365.6 294L365 287.9L363.8 280.5L355 281.5Z" fill="#fc8d59"/>
<path d="M363 288.1L363.7 294.6L364.6 294L367.6 293.9L366.3 280.6L361.8 280.6Z" fill="#fee8c8"/>
<path d="M382.1 296.5L383 296L384 300L384 303L384.4 303.1L384.5 304.2L386.8 305L400.5 305L400 300.7L397.9 295.7L396.2 290.4L399.2 288.4L397.1 282L399.5 274.6L398.7 274.3L390.2 288.3L385.3 292.3L381.9 295.7Z" fill="#fc8d59"/>
<path d="M443.9 272.3L445.7 274.1L450.8 273.1L455.4 275.8L460.2 280.6L462.3 277.4L457.8 272.4L453 268.6L449.8 264L449.5 262.9L445.7 266.4ZM462.5 276.1L462.6 276.4L462.7 276.4Z" fill="#fc8d59"/>
<path d="M460.4 283.3L463.7 282L462.5 277.6L462.1 277.1L458.7 278.4Z" fill="#fc8d59"/>
<path d="M442.4 302.4L441.9 306.8L440.5 312.1L449.2 318.3L453.9 323L454 321.6L458.3 313.4L459.2 312.6L458.8 304.7L459.8 298.1L453.4 299.6L450.3 298.5L445.2 294.7L441.1 297.9Z" fill="#fc8d59"/>
<path d="M391.4 317.9L395.8 316.8L397.4 312L395.9 306.4L392.2 303.5L385.4 305.1L384.8 306L385.1 307.5L383.6 310L385 315L388.6 319.8Z" fill="#fc8d59"/>
<path d="M430.8 318.5L435.5 317.9L434.9 312.2L429.8 313.2Z" fill="#fdbb84"/>
<path d="M430.3 322L434.5 322L435.1 315.8L430 316.5Z" fill="#fdbb84"/>
<path d="M412 352.4L415.5 355.9L423.4 357.1L427.6 352.8L431.5 350.9L436.3 347.7L438.9 343.4L440.7 338L438.8 333.3L433.2 329.9L428.1 331.2L426.9 337.2L429.5 341.4L428.2 341.9L424.4 339.1L419 338L416.7 338.6L416.1 342.2L412 343.2Z" fill="#fc8d59"/>
<path d="M419.6 358L424.3 362.7L428.4 367.9L433.3 369.1L438.6 364.5L439 356.8L436.7 352.3L431.1 349.3L426.4 351.1Z" fill="#fdd49e"/>
<path d="M409.1 356.1L407 371.9L407 379.8L411.9 381.1L415.5 377.9L419.5 376.9L423.6 372.8L428.8 370.1L430.2 366.8L425.7 361.3L421.6 357.1L416.1 355Z" fill="#ef6548"/>
<path d="M402.8 387.2L407.9 384.7L409 379.1L409 372.1L410.9 357.9L416.1 357L423.2 356.4L420.4 353.6L415.9 354L409.9 355L389.9 354L391 359L394.4 366L397 375L400.3 384.9Z" fill="#ef6548"/>
<path d="M435 374.7L433.8 366.7L427.6 368.5L422.4 371.2L418.5 375.1L414.5 376.1L411.3 378.9L407.2 377.7L406.1 383.3L403.2 384.8L399 381.1L402.4 391L403 396L404.4 400L415 398.6L422 397L428 393L433 387L436 381.4L435.6 378L436.4 377.3Z" fill="#d7301f"/>
<path d="M476.4 342L470 349L465 353L463 359L461 368L461 373L463 376L467 376L470 372L473.6 363L476.4 355L478 347.4Z" fill="#fc8d59"/>
<path d="M461.5 340.3L462.5 340.3L462.5 340.9L461.5 340.9Z" fill="#d7301f" stroke="none"/>
<path d="M463.9 341.7L464.9 341.7L464.9 342.3L463.9 342.3Z" fill="#d7301f" stroke="none"/>
<path d="M492.5 362.7L493.5 362.7L493.5 363.3L492.5 363.3Z" fill="#d7301f" stroke="none"/>
<path d="M489.9 321.7L490.9 321.7L490.9 322.3L489.9 322.3Z" fill="#fdbb84" stroke="none"/>
<path d="M377.5 309.1L378.5 309.1L378.5 309.7L377.5 309.7Z" fill="#fdbb84" stroke="none"/>
<path d="M400.6 169.7L405.6 169.3L404.9 165.8L404.5 165.9L404.9 166.8L400.9 167.5L401.1 168.2L400.1 168.3Z" fill="#fee8c8"/>
<path d="M638.4 210L637.5 209.3L635.2 206.1L637.4 198L638.4 198L638.9 195.6L634.3 197.9L630.4 200.3L627.2 204.5L630.2 207.5L631.5 210.7L634.8 211.2L635 212.2Z" fill="#fdd49e"/>
<path d="M633.7 211L634.8 211.2L635.2 213L637.5 218.5L639.3 220.3L642.1 219.4L643.9 217.6L643 214.8L640.7 211.6L637.5 209.3L636.9 208.5L633.6 210.7Z" fill="#fff7ec"/>
<path d="M479 196.3L481.3 202L483.1 202L487.8 201.1L492.6 203.9L498.7 205.9L503.4 207.8L506.6 212.2L511.3 210.6L510.3 207.7L519 205.5L515.5 202.1L511 201L507.2 201.9L502.6 198.2L497.3 195L490.3 194L485.3 191.4L477.7 190.4Z" fill="#fdd49e"/>
<path d="M478 205L477 209L478.3 213L484.9 212.6L490.5 213.9L494.6 218L499.4 218L503.6 213.8L508.5 211.4L504.6 206.2L499.3 204.1L493.4 202.1L488.2 198.9L476.7 201.2Z" fill="#fee8c8"/>
<path d="M509.5 202.7L514.5 203.9L516.6 206L519.2 206L525.4 203.9L530.8 200.7L532.5 196.6L526 196.6L514.7 197.4L511.2 199.3Z" fill="#fff7ec"/>
<path d="M509 210.2L509 212.8L515 214L519.1 213L525.9 213L522.8 208.4L519.5 204L516.9 204L507.7 206.3Z" fill="#fdbb84"/>
<path d="M497.1 229.4L499.4 234.1L505.3 233L511.7 229.8L518.3 220.4L519.9 215.5L526.2 207.7L518.8 210.6L506.8 211L502.5 212.7L498.6 216L493.8 216L495 223.2Z" fill="#fdd49e"/>
<path d="M502 237.3L502 239.9L501 244L511 244L515 245L518.8 246.9L517.8 247.5L519.2 248.2L523.2 244.2L520.2 238.2L523.8 234.7L526.9 230.4L528 224.9L526 220.5L527.6 219.8L531.3 216.1L527.7 211.2L522.7 208.7L518.1 214.5L516.5 219.6L510.3 228.2L504.7 231L498.2 232.3Z" fill="#fdbb84"/>
<path d="M524.3 223.5L526.5 225.7L526.5 229.5L523.7 234.4L518.1 239.2L520.3 245L517.7 246.4L518.8 246.9L517.3 247.8L520 253L525.2 255.2L528.2 258.2L529.8 265L532 271L535 277L538 283.8L541 289L544 286.8L546.2 283L546.2 275.5L547 268.8L551.5 264.2L556 259L559.8 255.2L563.5 253L564.5 253L562.8 243.2L564 242.9L567.9 246.1L569.4 249L571.8 252.5L574.1 249L576.4 244.4L577.9 239.3L580.7 236.4L575.7 232.4L570.3 234.2L567.4 239.6L564.4 239.4L567 235.1L560.5 236.4L559.2 239.8L547.4 235.6L542.3 233L542.9 231.4L536.9 225.7L537.6 223.6L535 220.1L532.4 217.1L523.3 219.3Z" fill="#ef6548"/>
<path d="M546.5 286.8L548 284.5L550.3 287.5L551 292L548.8 294.2L547 291.2Z" fill="#fc8d59"/>
<path d="M585.5 265.1L585.1 267.3L587.5 273L588.8 278L589 282.5L588.8 286.5L590 291L591.2 291L592.1 292L595.5 292L593.5 288L591.5 285.5L590.5 283L591.2 279L591 277L592.5 275.5L595 275L597.8 277L599 279L598.5 274.4L600.4 273L604.3 272.4L605.1 269.4L600.7 261.2L597.2 259.5L594.7 259.9L593.4 255.7L591.9 251.7L588.3 255.3L585.2 257.9L583.9 261Z" fill="#fdd49e"/>
<path d="M591.6 256.3L593.3 262.1L596.8 261.5L599.3 262.8L603 269.8L603.6 274L607.2 274L610.1 272.6L609.5 268.1L606.8 263.9L601.1 257.7L601.9 255.6L605.1 252.9L604.3 249.7L599.9 248.4L597.7 249.5L593.5 250.1L590.3 253.3Z" fill="#fdd49e"/>
<path d="M602.4 252.5L600.1 254.4L598.9 258.3L601.8 261.2L605.2 265.1L607.5 268.9L608.5 275L608 279.1L606.3 281.3L605.1 282.2L606.3 282.6L603.8 284.5L605 287.5L607 285.5L609 283L612 280.5L613.8 278L613.5 273L611.5 268.5L605 261L603.5 258L606.1 254L607.4 254L607.8 253.4L604 249.6L595.6 247.2L595.5 247.4Z" fill="#fdd49e"/>
<path d="M596.8 276.3L597.8 277L599 279L601.5 281L606.3 282.6L605.7 283L607.5 283L610 279.9L610.5 275L609.8 270.5L606.8 272L605 272L604 270.4L599.6 271.1L596.8 273.6Z" fill="#fdd49e"/>
<path d="M441.9 215.5L444.1 215.5L451.2 214.5L458.8 212.8L459.5 210L459 206.7L456.8 201.7L453.7 200.5L450.6 200.5L451 201.3L447 203L443 202.5L435 200.5L431 201L428 202L423.6 202.6L422.8 201.8L420.3 202.7L419.4 204.5L419.8 205.8L419.5 206.5L419.5 208.5L420 210.5L422 213L425 214.5L428 215.5L431 214.5L434.5 215.1L440 214L440.9 216.6Z" fill="#fdd49e"/>
<path d="M419.5 204.8L424.9 202.5L423.6 202.6L422 201L420.2 201L420.6 200L419.5 200L418.4 201.3Z" fill="#fdd49e"/>
<path d="M448.2 197L449.3 197.2L450 199.5L451 201.3L450.1 201.7L450.4 202.1L453.3 202.5L455.9 203.5L461.9 202.6L460.8 199.7L452.7 197.2L448.1 196.6Z" fill="#fdd49e"/>
<path d="M456.8 205.7L460.6 209L462.7 206.2L460.7 203.3L458.3 201.4L454.3 202Z" fill="#fff7ec"/>
<path d="M459.2 204.6L460.7 206.8L463.3 209.8L465.1 208.6L466.8 209.1L469.2 206.7L467.8 203.4L465.5 201.6L463.2 200.5L456.1 201.5Z" fill="#fee8c8"/>
<path d="M436.5 217L433.5 218L434 219.5L436 219L437.5 217.8Z" fill="#fdd49e"/>
<path d="M440.4 215.2L442.6 221.9L440.8 220.4L441 225.1L443.5 226.7L450.1 222.8L453.4 219L454.4 215.3L456.2 211.4L450.8 212.5L443.9 213.5L440.6 213.5Z" fill="#fdd49e"/>
<path d="M440 231L440.9 235L444.6 232.8L448.2 229.8L447.3 227.8L450.4 225.8L448.5 223L445.7 223L442.8 224.7L440.6 227.6Z" fill="#fdbb84"/>
<path d="M452.6 214.7L451.6 218L446.8 224L448.3 226.3L451.5 227.9L459.6 232.9L463.7 234.5L467.3 235.1L470.5 232.5L470.5 229.7L465.4 222.5L463.9 219.6L462.9 216.5L458.4 210.9L453.8 211.9Z" fill="#ef6548"/>
<path d="M476.2 204.5L477.5 207.3L478.1 213L482 213L482 199.1L478.8 202.3L471.4 198.6Z" fill="#fee8c8" stroke="none"/>
<path d="M464 208.2L465.9 208.8L469 213L469 206.3L467.8 203.4L464 200.5Z" fill="#fee8c8" stroke="none"/>
<path d="M465.4 209L466.1 215.5L480 215.5L480 208L476.9 212.1L474 212.8L470.6 212.1L468.5 209Z" fill="#fdd49e" stroke="none"/>
<path d="M457.5 210L456.9 212.2L461.1 217.5L462.1 220.4L463.6 223.5L469.9 232.4L471.1 233.1L472.3 232.3L480 240L485 242L488.4 240.3L488.3 239.5L489 240L494.5 237.3L495.2 238.3L491.2 241.7L493 243L501.2 244L502.9 241.4L504.1 236.9L500.8 230.4L498.8 228.4L497.4 225.6L496 221.9L496.5 217.3L495.3 214.8L491.5 212.1L487.3 210L482.9 209.5L473.9 213L469.5 212.5L467.7 210.3L465.5 208.1L463.5 207.4L461.9 208L460 207.6L456.5 204.1Z" fill="#fdd49e"/>
<path d="M467.3 265L475.2 263L482.3 262L486.7 259.8L490.1 255.2L488.8 249.5L485.3 249L481.8 247.6L480 248L478.8 246.2L478.5 243.9L477.1 241.9L476.1 242.1L473 238L468.5 234.8L469.4 234.2L467.3 233L464.3 232.5L460.4 231.1L452.5 226.1L448.9 224.3L444.7 227.2L445.8 229.2L443.4 231.2L440.9 232.7L439.9 233.7L451 250L455 257L461 266L461 267.1Z" fill="#ef6548"/>
<path d="M461.9 277.7L462.4 277.5L461.6 276.6ZM482.6 259.9L474.8 261L466.7 263L460.4 265.1L461 266L461 271L462.6 276.4L467 275L479 269L484 266L485 265.8Z" fill="#fee8c8"/>
<path d="M483.1 266.5L484 266L488 265L492 262L498 252L495 250L492 247L489.4 246L489.2 244.9L488.8 244.7L487 250.4L487.9 254.8L485.3 258.2L480.7 260.5Z" fill="#ef6548"/>
<path d="M616.4 308.3L621.9 307.7L626.4 304.9L630.7 301.2L633.1 299.7L634.4 299.5L637.5 295.6L632.7 291.9L630.1 294L627.9 297.2L623.7 300.9L614.7 305.4L614.7 306Z" fill="#fee8c8"/>
<path d="M593.3 293.2L594.1 294L594.6 297.2L596.2 300.9L598.8 304.1L601.5 306.7L603.6 306.2L600.9 299.8L598.8 295.6L596.7 292.9L595.8 292.2Z" fill="#fee8c8"/>
<path d="M597.4 293.8L596.7 292.9L595.5 292.1L593.5 288L591.5 285.5L590.9 284L588.9 284.5L588.8 286.5L590 291L591.2 291L594.1 294L594.2 295Z" fill="#fdd49e"/>
<path d="M686.3 333.1L687.3 333.7L692.1 333.9L694.2 330.7L697.4 330.2L700 332.8L702.6 336L706.9 337.6L709 336.9L705.8 333.9L703.2 330.7L701.6 328.1L703.2 325.9L699.5 323.3L696.3 320.1L687.1 316.5Z" fill="#990000"/>
<path d="M389 306.8L389 302.4L384 302.4L384 303L384.4 303.1L385 306.8Z" fill="#fdbb84"/>
<path d="M438.5 338.1L437.3 343.1L439 346.3L440.1 352.7L443.7 354.5L445 347.9L443 341.7L440.8 334.1L436.3 333.2Z" fill="#fc8d59"/>
<path d="M425.6 391.5L429.8 387L426.1 383.3L421.6 386.9Z" fill="#d7301f"/>
<path d="M431.7 382.3L435.9 380.7L435.7 378.8L434.6 375.1L430.4 377.5Z" fill="#ef6548"/>
<path d="M546.6 237.4L560.5 242.3L561.7 237.3L554.9 235.3L542.1 229.5L539.6 233.9Z" fill="#fdbb84"/>
<path d="M562.1 241.2L568.6 241.2L569.1 236.5L564.9 235.5L560.4 237.1Z" fill="#fc8d59"/>
<path d="M574.2 238.5L575.2 239.3L574.2 241.4L571.7 244.4L569.8 248.2L571.9 250.3L570.9 253L571.2 253.6L571.5 251.9L573.5 256.5L578.5 264L578 267.5L580 268.8L583 267.5L584.5 266L587.5 273L588.8 278L588.9 283.5L591 284.2L590.5 283L591.2 279L591 277L591.7 276.3L591.5 274.7L589.4 270.1L586.1 261L586.8 259.1L589.7 256.7L593 253.4L590.2 251.2L586.7 247.8L584 244.7L584.5 240.9L583.3 237.1L580.6 236.6L578.6 234.2L575.1 232.4L570.3 233.6L567.2 239.2Z" fill="#ef6548"/>
<path d="M439.8 225.6L443 223L443 218L441.5 218.6L442.6 221.9L440.8 220.4L440.8 223.5L439.8 223.9Z" fill="#fdd49e"/>
<path d="M438.5 230.1L439.2 232.7L441.1 235.4L442.5 228L441.6 222.1L440.8 222.4L440.8 223.5L439.5 224L439.5 229.7L438.5 229Z" fill="#fee8c8"/>
<path d="M466 234.6L468.6 236L469.4 235.4L468.5 234.8L471.3 233L470.1 230.4L466 231.2Z" fill="#fdbb84"/>
<path d="M484.7 251L488.7 251.5L490.3 246.4L489.4 246L489 243.6L485 247L480 248L479.4 247.1L476.5 247.7Z" fill="#fdbb84"/>
<path d="M476.1 246.4L478.7 245.8L478.2 241.6L476.1 242.1L475.5 241.3Z" fill="#fdbb84"/>
<path d="M626.8 296.6L628.2 296.2L628.8 297.7L627.5 298.3Z" fill="#d7301f" stroke="none"/>
<path d="M406.2 199.5L405.3 196L401.7 196L398.3 198.5L400 198.5L401.8 199.5L403.8 199.9L403.9 200.7Z" fill="#fdd49e"/>
<path d="M560.6 241.8L562.6 253.6L563.5 253L565.8 253L568 250L569.5 253L571 254.5L571.5 251.9L572.2 253.5L572.8 250.5L571.1 248L569.6 244.9L564.5 240.6Z" fill="#fdd49e"/>
<path d="M440.2 225.5L441 225.5L441 227.2L440.2 227.2Z" fill="#d7301f" stroke="none"/>
<path d="M110.3 227.8L112.7 228.2L112.7 229.7L115.3 237.6L118 241.9L120.1 246.1L122.7 250.3L123.7 253.2L120.7 252.3L116.4 249.6L112.9 241.7L109.7 231.1Z" fill="#ffffff" stroke="none"/>
<path d="M405.6 201L409.1 201L408.3 198.2L403.7 197Z" fill="#fff7ec"/>
<path d="M406 204L409.9 204L412.6 201.2L409.8 198.5L405.1 199.5Z" fill="#fdbb84"/>
<path d="M421.1 139.7L425.4 140.2L430.6 141.3L433.6 140.4L435.3 136.7L437.2 135.9L438.1 140.8L434 142.4L432.9 144.9L428.1 144.5L428.5 145.9L425.9 145.4L424.3 142.8L420.7 141.2Z" fill="#ffffff" stroke="none"/>
<path d="M460.5 193L462.5 190L467 187.8L471 188L472.8 190L471 192L467.5 193.5L467.5 196L470.5 198.5L474 200L477 204L478.5 207L479 211L477.5 213L474 213.8L470 213L468 210L468 206.5L467 204L465 202L463.5 199.5Z" fill="#ffffff"/>
</g>
<g id="legend">
<rect x="157.5" y="517.5" width="47" height="10.5" fill="url(#hatch)" stroke="#bdbdbd" stroke-width="1"/>
<rect x="224.5" y="517.5" width="58.5" height="10.5" fill="#fff7ec"/>
<rect x="283" y="517.5" width="58.5" height="10.5" fill="#fee8c8"/>
<rect x="341.5" y="517.5" width="58.5" height="10.5" fill="#fdd49e"/>
<rect x="400" y="517.5" width="58.5" height="10.5" fill="#fdbb84"/>
<rect x="458.5" y="517.5" width="58.5" height="10.5" fill="#fc8d59"/>
<rect x="517" y="517.5" width="58.5" height="10.5" fill="#ef6548"/>
<rect x="575.5" y="517.5" width="58.5" height="10.5" fill="#d7301f"/>
<path d="M634 517.5H688L692.8 522.75L688 528H634Z" fill="#990000"/>
<path d="M224.5 517.5H688L692.8 522.75L688 528H224.5Z" fill="none" stroke="#bdbdbd" stroke-width="0.6"/>
<g stroke="#999" stroke-width="0.7">
<line x1="224.5" y1="512.5" x2="224.5" y2="528"/>
<line x1="283" y1="512.5" x2="283" y2="528"/>
<line x1="341.5" y1="512.5" x2="341.5" y2="528"/>
<line x1="400" y1="512.5" x2="400" y2="528"/>
<line x1="458.5" y1="512.5" x2="458.5" y2="528"/>
<line x1="517" y1="512.5" x2="517" y2="528"/>
<line x1="575.5" y1="512.5" x2="575.5" y2="528"/>
<line x1="634" y1="512.5" x2="634" y2="528"/>
</g>
<line x1="181" y1="514.5" x2="181" y2="517.5" stroke="#999" stroke-width="0.7"/>
<g font-size="13.5" fill="#626262" text-anchor="middle">
<text x="181" y="510">No data</text>
<text x="224.5" y="510">0</text>
<text x="283" y="510">10</text>
<text x="341.5" y="510">20</text>
<text x="400" y="510">30</text>
<text x="458.5" y="510">40</text>
<text x="517" y="510">50</text>
<text x="575.5" y="510">60</text>
<text x="634" y="510">70</text>
</g>
</g>
</svg>
<div id="title" class="t">Death rate from diabetes,</div>
<div id="ty1" class="t ty" style="left:312px;top:24.9px;font-size:18.8px;transform:scaleX(1.41)">202</div>
<div id="ty2" class="t ty" style="left:353px;top:24.1px;font-size:24.3px;transform:scaleX(0.95)">3</div>
<div id="sub" class="t">Estimated annual number of deaths from diabetes per 100,000 people.</div>
<div id="logo"><div style="top:5.4px">Our World</div><div style="top:17.2px">in Data</div></div>
<div id="f1" class="t f" style="left:16px;top:549.6px"><b>Data source:</b> IHME, Global Burden of Disease (2025)</div>
<div id="f2" class="t f" style="left:16px;top:570.1px;letter-spacing:0.1px"><b>Note:</b> To allow for comparisons between countries and over time, this metric is age-standardized.</div>
<div id="f3" class="t f" style="left:570.5px;top:549.6px;word-spacing:-0.3px">OurWorldinData.org/causes-of-death | CC BY</div>
</body>
</html>
